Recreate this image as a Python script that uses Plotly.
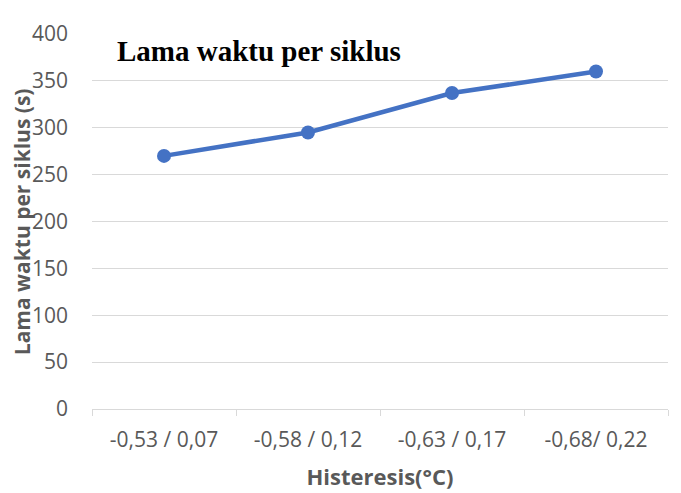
import plotly.graph_objects as go

categories = ["-0,53 / 0,07", "-0,58 / 0,12", "-0,63 / 0,17", "-0,68/ 0,22"]
values = [270, 295, 337, 360]
y_ticks = [0, 50, 100, 150, 200, 250, 300, 350, 400]

gray = "#595959"
fig = go.Figure()
fig.add_trace(go.Scatter(
    x=categories, y=values, mode="lines+markers",
    line=dict(color="#4472C4", width=4.5),
    marker=dict(color="#4472C4", size=14),
    showlegend=False,
))
fig.update_layout(
    width=673, height=485,
    margin=dict(l=84, r=13, t=26, b=84),
    paper_bgcolor="white", plot_bgcolor="white",
    font=dict(family="Open Sans", color=gray, size=21),
    annotations=[
        dict(
            text="<b>Lama waktu per siklus</b>", xref="paper", yref="paper",
            x=0.04, y=0.956, xanchor="left", yanchor="middle", showarrow=False,
            font=dict(family="Liberation Serif", size=29, color="black"),
        ),
        dict(
            text="<b>Lama waktu per siklus (s)</b>", xref="paper", yref="paper",
            x=-0.122, y=0.5, xanchor="center", yanchor="middle", showarrow=False,
            textangle=-90, borderpad=0,
            font=dict(family="Open Sans", size=21, color=gray),
        ),
    ],
)
fig.update_xaxes(
    type="category", range=[-0.5, 3.5], automargin=False,
    showline=True, linecolor="#d9d9d9", linewidth=1,
    ticks="outside", tickson="boundaries", ticklen=6, tickcolor="#d9d9d9",
    showgrid=False, tickfont=dict(size=21, color=gray), ticklabelstandoff=12,
    title=dict(text="<b>Histeresis(°C)</b>", font=dict(size=22, color=gray), standoff=17),
)
fig.update_yaxes(
    range=[0, 400], tickvals=y_ticks, automargin=False, showgrid=True, gridcolor="#d9d9d9",
    zeroline=False, showline=False, ticks="", tickfont=dict(size=21, color=gray),
    ticklabelstandoff=23,
)
fig.write_html("out.html")
